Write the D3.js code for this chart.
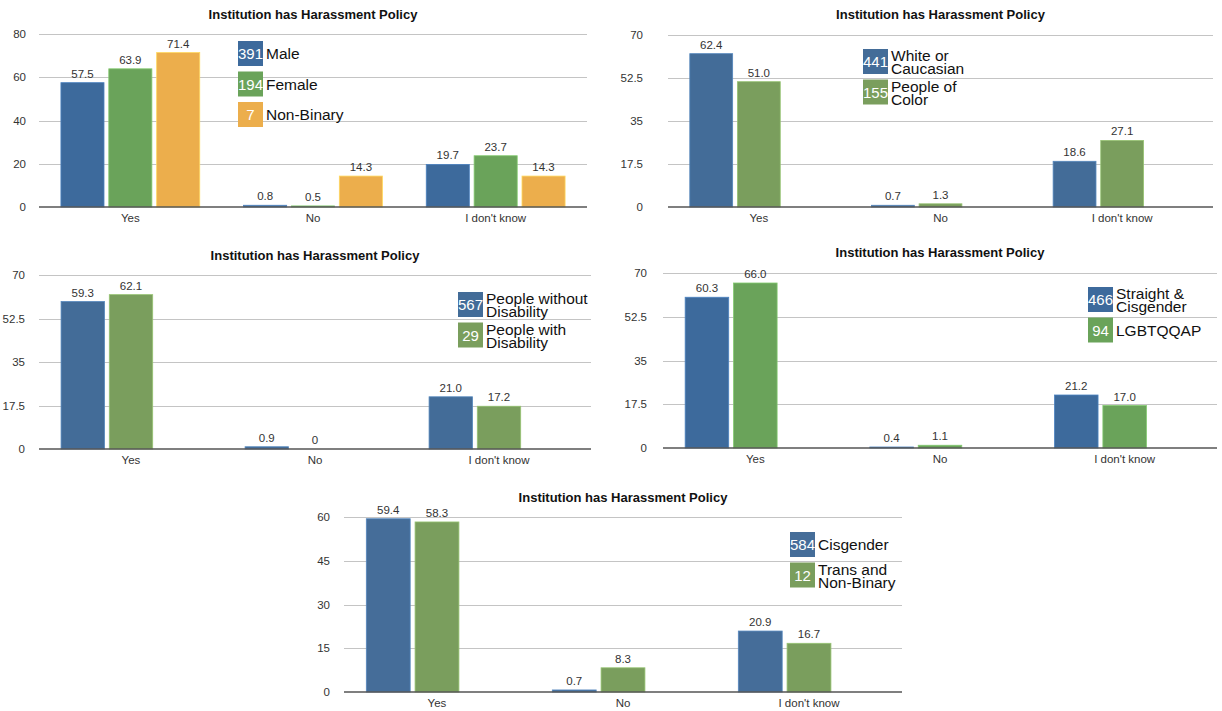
<!DOCTYPE html>
<html>
<head>
<meta charset="utf-8">
<script src="https://cdn.jsdelivr.net/npm/d3@7/dist/d3.min.js"></script>
<style>
html,body{margin:0;padding:0;background:#fff;}
svg{display:block;}
text{font-family:"Liberation Sans",Arial,Helvetica,sans-serif;}
</style>
</head>
<body>
<svg id="chart" width="1222" height="711"></svg>
<script>
// ---------- DATA ----------
const categories = ["Yes", "No", "I don't know"];
const chartTitle = "Institution has Harassment Policy";

// Panel 1: gender
const genderSeries = [["Male"], ["Female"], ["Non-Binary"]];
const genderCounts = [391, 194, 7];
const genderValues = [[57.5, 0.8, 19.7], [63.9, 0.5, 23.7], [71.4, 14.3, 14.3]];
const genderTicks = [0, 20, 40, 60, 80];

// Panel 2: race
const raceSeries = [["White or", "Caucasian"], ["People of", "Color"]];
const raceCounts = [441, 155];
const raceValues = [[62.4, 0.7, 18.6], [51.0, 1.3, 27.1]];
const raceTicks = [0, 17.5, 35, 52.5, 70];

// Panel 3: disability
const disabilitySeries = [["People without", "Disability"], ["People with", "Disability"]];
const disabilityCounts = [567, 29];
const disabilityValues = [[59.3, 0.9, 21.0], [62.1, 0, 17.2]];
const disabilityTicks = [0, 17.5, 35, 52.5, 70];

// Panel 4: sexuality
const sexualitySeries = [["Straight &", "Cisgender"], ["LGBTQQAP"]];
const sexualityCounts = [466, 94];
const sexualityValues = [[60.3, 0.4, 21.2], [66.0, 1.1, 17.0]];
const sexualityTicks = [0, 17.5, 35, 52.5, 70];

// Panel 5: gender identity
const identitySeries = [["Cisgender"], ["Trans and", "Non-Binary"]];
const identityCounts = [584, 12];
const identityValues = [[59.4, 0.7, 20.9], [58.3, 8.3, 16.7]];
const identityTicks = [0, 15, 30, 45, 60];

// ---------- LAYOUT / STYLE ----------
const panels = [
  {series: genderSeries, counts: genderCounts, values: genderValues, ticks: genderTicks,
   colors: ["#3d6a9c", "#6aa35a", "#ecae4c"],
   left: 39, right: 587, top: 34, bottom: 207, titleY: 19, tickGap: 13, legendX: 238, legendY: 41},
  {series: raceSeries, counts: raceCounts, values: raceValues, ticks: raceTicks,
   colors: ["#436c98", "#7a9e5d"],
   left: 668, right: 1213, top: 35, bottom: 207, titleY: 19, tickGap: 25, legendX: 863, legendY: 49},
  {series: disabilitySeries, counts: disabilityCounts, values: disabilityValues, ticks: disabilityTicks,
   colors: ["#436c98", "#7a9e5d"],
   left: 39, right: 591, top: 275, bottom: 449, titleY: 260, tickGap: 14, legendX: 458, legendY: 292},
  {series: sexualitySeries, counts: sexualityCounts, values: sexualityValues, ticks: sexualityTicks,
   colors: ["#3d6a9c", "#6aa35a"],
   left: 663, right: 1217, top: 273, bottom: 448, titleY: 257, tickGap: 16, legendX: 1088, legendY: 287},
  {series: identitySeries, counts: identityCounts, values: identityValues, ticks: identityTicks,
   colors: ["#456d99", "#7a9e5d"],
   left: 344, right: 902, top: 517, bottom: 692, titleY: 502, tickGap: 14, legendX: 790, legendY: 532}
];

const svg = d3.select("#chart");
const fmt = v => v === 0 ? "0" : v.toFixed(1);

panels.forEach(p => {
  const g = svg.append("g");
  const maxTick = p.ticks[p.ticks.length - 1];
  const y = d3.scaleLinear().domain([0, maxTick]).range([p.bottom, p.top]);
  const x0 = d3.scaleBand().domain(categories).range([p.left, p.right])
    .paddingInner(0.24).paddingOuter(0.12);
  // three slots per group (original layout), unused slots remain empty
  const x1 = d3.scaleBand().domain([0, 1, 2]).range([0, x0.bandwidth()])
    .paddingInner(0.1).paddingOuter(0);

  // title
  g.append("text").attr("x", (p.left + p.right) / 2).attr("y", p.titleY)
    .attr("text-anchor", "middle").attr("font-weight", "bold").attr("font-size", 13)
    .attr("fill", "#111").text(chartTitle);

  // gridlines
  g.selectAll("line.grid").data(p.ticks.filter(t => t > 0)).enter().append("line")
    .attr("x1", p.left).attr("x2", p.right)
    .attr("y1", d => Math.round(y(d)) + 0.5).attr("y2", d => Math.round(y(d)) + 0.5)
    .attr("stroke", "#c4c4c4").attr("stroke-width", 1);

  // y tick labels
  g.selectAll("text.tick").data(p.ticks).enter().append("text")
    .attr("x", p.left - p.tickGap).attr("y", d => y(d) + 4)
    .attr("text-anchor", "end").attr("font-size", 11.5).attr("fill", "#333")
    .text(d => d);

  // bars
  p.values.forEach((vals, si) => {
    g.selectAll(null).data(vals).enter().append("rect")
      .attr("x", (d, ci) => x0(categories[ci]) + x1(si))
      .attr("width", x1.bandwidth())
      .attr("y", d => y(d))
      .attr("height", d => Math.max(0, p.bottom - y(d)))
      .attr("fill", p.colors[si])
      .attr("stroke", d3.color(p.colors[si]).brighter(0.6))
      .attr("stroke-width", 0.8);
    g.selectAll(null).data(vals).enter().append("text")
      .attr("x", (d, ci) => x0(categories[ci]) + x1(si) + x1.bandwidth() / 2)
      .attr("y", d => y(d) - 5)
      .attr("text-anchor", "middle").attr("font-size", 11.5).attr("fill", "#333")
      .text(d => fmt(d));
  });

  // baseline
  g.append("line").attr("x1", p.left).attr("x2", p.right)
    .attr("y1", p.bottom).attr("y2", p.bottom)
    .attr("stroke", "#555").attr("stroke-width", 1.6);

  // category labels
  g.selectAll("text.cat").data(categories).enter().append("text")
    .attr("x", d => x0(d) + x0.bandwidth() / 2).attr("y", p.bottom + 15)
    .attr("text-anchor", "middle").attr("font-size", 11.5).attr("fill", "#333")
    .text(d => d);

  // legend
  const box = 25, spacing = 30.5;
  p.series.forEach((lines, si) => {
    const top = p.legendY + si * spacing;
    g.append("rect").attr("x", p.legendX).attr("y", top).attr("width", box).attr("height", box)
      .attr("fill", p.colors[si]);
    g.append("text").attr("x", p.legendX + box / 2).attr("y", top + 18)
      .attr("text-anchor", "middle").attr("font-size", 15).attr("fill", "#fff")
      .text(p.counts[si]);
    const tx = p.legendX + box + 3;
    const t = g.append("text").attr("x", tx).attr("font-size", 15.5).attr("fill", "#111");
    if (lines.length === 1) {
      t.attr("y", top + 18).text(lines[0]);
    } else {
      t.attr("y", top + 12);
      t.append("tspan").attr("x", tx).attr("y", top + 12).text(lines[0]);
      t.append("tspan").attr("x", tx).attr("y", top + 25).text(lines[1]);
    }
  });
});
</script>
</body>
</html>
